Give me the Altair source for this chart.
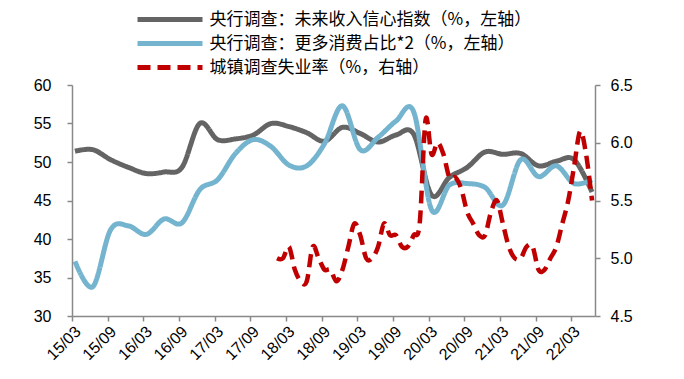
import altair as alt
import pandas as pd

quarters = ["2015-03", "2015-06", "2015-09", "2015-12", "2016-03", "2016-06", "2016-09", "2016-12",
            "2017-03", "2017-06", "2017-09", "2017-12", "2018-03", "2018-06", "2018-09", "2018-12",
            "2019-03", "2019-06", "2019-09", "2019-12", "2020-03", "2020-06", "2020-09", "2020-12",
            "2021-03", "2021-06", "2021-09", "2021-12", "2022-03", "2022-06"]
income_confidence = [51.4, 51.6, 50.3, 49.3, 48.5, 48.7, 49.3, 55.0,
                     52.9, 53.0, 53.5, 55.0, 54.6, 53.8, 52.7, 54.5,
                     53.7, 52.6, 53.5, 53.6, 45.7, 48.0, 49.3, 51.3,
                     51.0, 51.1, 49.5, 50.1, 50.3, 46.1]
more_consumption_x2 = [37.1, 33.8, 41.2, 41.7, 40.6, 42.6, 42.1, 46.4,
                       47.7, 51.1, 52.9, 52.0, 49.6, 49.5, 52.4, 57.3,
                       51.6, 53.2, 55.3, 56.5, 43.8, 47.0, 47.2, 46.7,
                       44.4, 50.3, 48.1, 49.5, 47.2, 47.7]
unemp_months = [f"{y}-{m:02d}" for y in range(2018, 2023) for m in range(1, 13)][:54]
unemployment = [5.0, 5.0, 5.1, 4.9, 4.8, 4.8, 5.1, 5.0, 4.9, 4.9, 4.8, 4.9,
                5.1, 5.3, 5.2, 5.0, 5.0, 5.1, 5.3, 5.2, 5.2, 5.1, 5.1, 5.2,
                5.3, 6.2, 5.9, 6.0, 5.9, 5.7, 5.7, 5.6, 5.4, 5.3, 5.2, 5.2,
                5.4, 5.5, 5.3, 5.1, 5.0, 5.0, 5.1, 5.1, 4.9, 4.9, 5.0, 5.1,
                5.3, 5.5, 5.8, 6.1, 5.9, 5.5]
tick_labels = ["15/03", "15/09", "16/03", "16/09", "17/03", "17/09", "18/03", "18/09",
               "19/03", "19/09", "20/03", "20/09", "21/03", "21/09", "22/03"]

S1 = "央行调查：未来收入信心指数（%，左轴）"
S2 = "央行调查：更多消费占比*2（%，左轴）"
S3 = "城镇调查失业率（%，右轴）"


def month_index(s):
    y, m = map(int, s.split("-"))
    return (y - 2015) * 12 + (m - 3) + 0.5


left_df = pd.DataFrame({
    "t": [month_index(q) for q in quarters] * 2,
    "value": income_confidence + more_consumption_x2,
    "series": [S1] * len(quarters) + [S2] * len(quarters),
})
right_df = pd.DataFrame({
    "t": [month_index(m) for m in unemp_months],
    "value": unemployment,
    "series": [S3] * len(unemp_months),
})

label_expr = "[" + ",".join(f"'{l}'" for l in tick_labels) + "][round(datum.value/6)]"

color_scale = alt.Scale(domain=[S1, S2, S3], range=["#646464", "#74b4cf", "#c00000"])
dash_scale = alt.Scale(domain=[S1, S2, S3], range=[[1, 0], [1, 0], [13, 7]])
legend = alt.Legend(
    title=None, orient="none", legendX=88, legendY=-75.5, padding=0,
    symbolType="M-4.333,0H4.333", symbolSize=225, symbolStrokeWidth=5,
    rowPadding=4, labelOffset=29.5,
    labelFont="Noto Sans CJK SC", labelFontSize=17, labelColor="#000000",
    labelLimit=500,
)

x_axis = alt.Axis(values=list(range(0, 85, 6)), labelExpr=label_expr,
                  labelAngle=-45, title=None, labelPadding=2, labelOverlap=False)
x_scale = alt.Scale(domain=[0, 88], nice=False, zero=False)

left = alt.Chart(left_df).mark_line(interpolate="cardinal", strokeWidth=5).encode(
    x=alt.X("t:Q", scale=x_scale, axis=x_axis),
    y=alt.Y("value:Q", scale=alt.Scale(domain=[30, 60], nice=False, zero=False),
            axis=alt.Axis(orient="left", values=[30, 35, 40, 45, 50, 55, 60], title=None,
                          labelPadding=16)),
    color=alt.Color("series:N", scale=color_scale, legend=legend),
    strokeDash=alt.StrokeDash("series:N", scale=dash_scale, legend=legend),
)

right = alt.Chart(right_df).mark_line(interpolate="cardinal", strokeWidth=4.5).encode(
    x=alt.X("t:Q", scale=x_scale, axis=x_axis),
    y=alt.Y("value:Q", scale=alt.Scale(domain=[4.5, 6.5], nice=False, zero=False),
            axis=alt.Axis(orient="right", values=[4.5, 5.0, 5.5, 6.0, 6.5], format=".1f",
                          title=None, labelPadding=10)),
    color=alt.Color("series:N", scale=color_scale, legend=legend),
    strokeDash=alt.StrokeDash("series:N", scale=dash_scale, legend=legend),
)

chart = alt.layer(left, right).resolve_scale(y="independent").properties(
    width=523, height=231,
    padding={"left": 64, "top": 77, "right": 81, "bottom": 55},
    autosize=alt.AutoSizeParams(type="none"),
).configure_view(stroke=None).configure_axis(
    grid=False, domainColor="#898989", tickColor="#898989", domainWidth=1.5, tickWidth=1.5,
    tickSize=5, labelFont="Liberation Sans", labelFontSize=16, labelColor="#000000",
)

chart.save("out.html", embed_options={"renderer": "svg", "actions": False})
